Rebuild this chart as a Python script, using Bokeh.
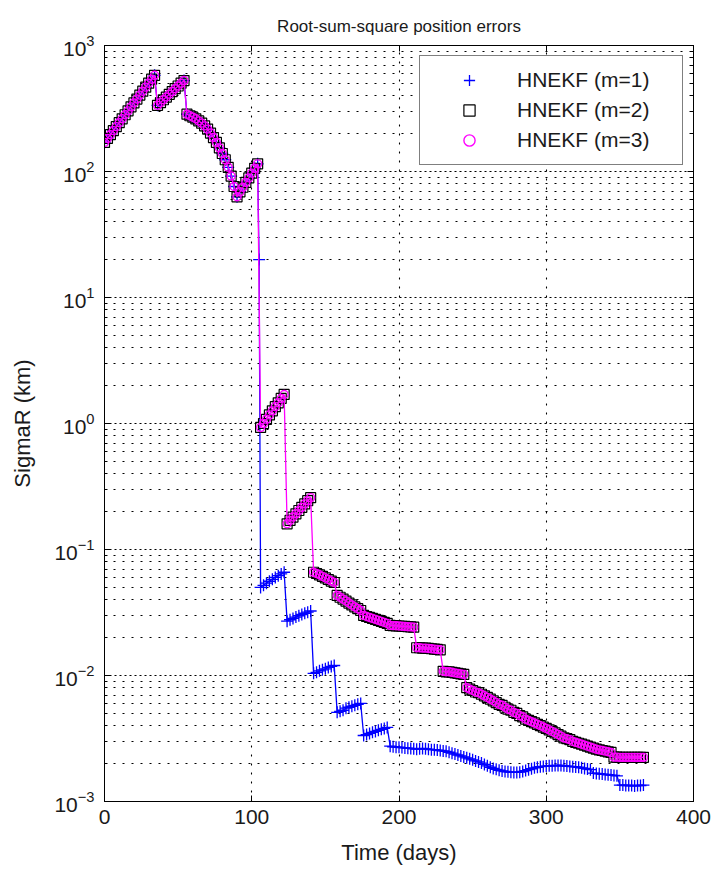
from bokeh.plotting import figure
from bokeh.models import (LogAxis, LinearAxis, FixedTicker, Legend, LegendItem,
                          CustomJSTickFormatter)
from bokeh.embed import file_html
from bokeh.resources import INLINE

# ---------------- data ----------------
# sampling grid: every 2 days from day 0 to day 366
days = list(range(0, 368, 2))

# days 0..104 : all three filters coincide (km)
r_common = [
    170, 183, 196, 211, 227, 244, 262, 282, 303, 326,
    350, 376, 404, 434, 467, 502, 540, 580,
    335, 352, 371, 390, 410, 431, 454, 477, 502, 527,
    285, 277, 270, 262, 252, 242, 230, 217, 202, 186,
    170, 154, 139, 124, 108, 92, 76,
    63, 69, 75, 82, 89, 97, 106, 115,
]

# m=1 has an extra sample during the big drop
day_m1_drop = [105]
r_m1_drop = [20.0]

# days 106..366 for HNEKF (m=1)
r_m1_late = [
    0.050, 0.052, 0.054, 0.056, 0.058, 0.060, 0.062, 0.064, 0.066,
    0.027, 0.0277, 0.0284, 0.0291, 0.0298, 0.0305, 0.0312, 0.0318, 0.0325,
    0.0104, 0.0106, 0.0109, 0.0111, 0.0113, 0.0116, 0.0118, 0.0120,
    0.0051, 0.0052, 0.0053, 0.0055, 0.0056, 0.0057, 0.0058, 0.0059, 0.0060,
    0.00334, 0.0034, 0.00347, 0.00354, 0.0036, 0.00367, 0.00374, 0.0038, 0.00387,
    0.00275, 0.00272, 0.0027, 0.0027, 0.00268, 0.00266, 0.00265, 0.00264, 0.00262, 0.0026,
    0.00262, 0.00264, 0.00262, 0.0026, 0.00258, 0.00258, 0.00256, 0.00254, 0.00252, 0.0025,
    0.00246, 0.00242, 0.00238, 0.00234, 0.0023, 0.00226, 0.00222, 0.00218, 0.00214, 0.0021,
    0.00206, 0.00202, 0.00197, 0.00192, 0.00187, 0.00183, 0.0018, 0.00177, 0.00175, 0.00173,
    0.00172, 0.00171, 0.0017, 0.0017, 0.00171, 0.00173, 0.00176, 0.00179, 0.00182, 0.00185,
    0.00187, 0.00189, 0.0019, 0.00191, 0.00192, 0.00192, 0.00193, 0.00193, 0.00193, 0.00192,
    0.00191, 0.0019, 0.00189, 0.00188, 0.00187, 0.00185, 0.00183, 0.00181, 0.00179,
    0.00168, 0.00167, 0.00166, 0.00165, 0.00164, 0.00163, 0.00162, 0.00161, 0.0016,
    0.00135, 0.00135, 0.00134, 0.00134, 0.00134, 0.00133, 0.00134, 0.00134, 0.00135,
]

# days 106..366 for HNEKF (m=2) and (m=3) (visually identical)
r_m23_late = [
    0.93, 1.0, 1.08, 1.17, 1.26, 1.36, 1.46, 1.58, 1.7,
    0.160, 0.170, 0.181, 0.192, 0.204, 0.216, 0.230, 0.244, 0.258,
    0.066, 0.0645, 0.063, 0.0612, 0.0595, 0.0578, 0.0562, 0.0547,
    0.0432, 0.0418, 0.0404, 0.039, 0.0376, 0.0363, 0.035, 0.0339, 0.0328,
    0.030, 0.0294, 0.0289, 0.0284, 0.0279, 0.0274, 0.0269, 0.0264, 0.0259,
    0.0250, 0.0249, 0.0248, 0.0247, 0.0246, 0.0245, 0.0244, 0.0243, 0.0242,
    0.0166, 0.0166, 0.0165, 0.0165, 0.0164, 0.0163, 0.0162, 0.0161, 0.0160,
    0.0108, 0.0107, 0.0107, 0.0106, 0.0105, 0.0104, 0.0103, 0.0102,
    0.0080, 0.0078, 0.0076, 0.0074, 0.0073, 0.0071, 0.0069, 0.0067, 0.0065, 0.0063,
    0.0061, 0.0059, 0.0058, 0.0056, 0.0054, 0.0053, 0.0051, 0.0050, 0.0048, 0.0047,
    0.0045, 0.0044, 0.0043, 0.0042, 0.0041, 0.0040, 0.0039, 0.0038, 0.0037, 0.0036,
    0.0035, 0.0034, 0.0033, 0.0032, 0.00315, 0.0031, 0.0030, 0.00295, 0.0029, 0.00285,
    0.0028, 0.00275, 0.0027, 0.00265, 0.0026, 0.00257, 0.00254, 0.00251, 0.00248, 0.00245,
    0.00225, 0.00225, 0.00224, 0.00224, 0.00224, 0.00224, 0.00224, 0.00224, 0.00224, 0.00224, 0.00224,
]

title_text = "Root-sum-square position errors"
series_labels = ["HNEKF (m=1)", "HNEKF (m=2)", "HNEKF (m=3)"]
x_ticks = [0, 100, 200, 300, 400]
y_decades = [1e-3, 1e-2, 1e-1, 1e0, 1e1, 1e2, 1e3]

# assemble series
t1 = days[:53] + day_m1_drop + days[53:]
r1 = r_common + r_m1_drop + r_m1_late
t2 = days
r2 = r_common + r_m23_late
t3 = days
r3 = r_common + r_m23_late

# ---------------- figure ----------------
FONT = "Liberation Sans"
TXT = "#1a1a1a"

p = figure(width=714, height=871, x_range=(0, 400), y_range=(1e-3, 1e3),
           y_axis_type="log", output_backend="svg", toolbar_location=None,
           min_border_left=104, min_border_right=21, min_border_top=45,
           min_border_bottom=70, background_fill_color="white",
           border_fill_color="white")
p.outline_line_color = "black"
p.outline_line_width = 1

p.title.text = title_text
p.title.align = "center"
p.title.text_font = FONT
p.title.text_font_size = "17px"
p.title.text_font_style = "normal"
p.title.text_color = TXT
p.title.standoff = 20

minor = [m * d for d in y_decades[:-1] for m in range(2, 10)]
yt = FixedTicker(ticks=y_decades, minor_ticks=minor)
xt = FixedTicker(ticks=x_ticks)

def style_axis(ax, label_size="21px"):
    ax.axis_line_color = "black"
    ax.major_tick_line_color = "black"
    ax.minor_tick_line_color = "black"
    ax.major_tick_in = 6
    ax.major_tick_out = 0
    ax.minor_tick_in = 3
    ax.minor_tick_out = 0
    ax.major_label_text_font = FONT
    ax.major_label_text_color = TXT
    ax.major_label_text_font_size = label_size
    ax.axis_label_text_font = FONT
    ax.axis_label_text_color = TXT
    ax.axis_label_text_font_style = "normal"
    ax.axis_label_text_font_size = "22px"

p.xaxis.ticker = xt
p.yaxis.ticker = yt
style_axis(p.xaxis[0])
style_axis(p.yaxis[0])
p.xaxis.axis_label = "Time (days)"
p.yaxis.axis_label = "SigmaR (km)"
p.xaxis.major_label_standoff = 8
p.xaxis.axis_label_standoff = 13
p.yaxis.major_label_standoff = 10
p.yaxis.axis_label_standoff = 16

blank = CustomJSTickFormatter(code="return ''")
right_ax = LogAxis(ticker=yt, formatter=blank)
style_axis(right_ax, "1px")
right_ax.major_label_standoff = 0
p.add_layout(right_ax, "right")
top_ax = LinearAxis(ticker=xt, formatter=blank)
style_axis(top_ax, "1px")
top_ax.major_label_standoff = 0
p.add_layout(top_ax, "above")

# grids (dotted, MATLAB style)
p.xgrid.grid_line_color = "black"
p.xgrid.grid_line_dash = "2 7"
p.xgrid.grid_line_width = 1.1
p.ygrid.grid_line_color = "black"
p.ygrid.grid_line_dash = "2 3"
p.ygrid.grid_line_width = 1.1
p.ygrid.minor_grid_line_color = "black"
p.ygrid.minor_grid_line_dash = "2 7"
p.ygrid.minor_grid_line_width = 1.1

# series
BLUE = "#0000ff"
MAG = "#ff00ff"
p.line(t1, r1, line_color=BLUE, line_width=1.3)
s1 = p.scatter(t1, r1, marker="cross", size=12, line_color=BLUE, line_width=1.3)
s2 = p.scatter(t2, r2, marker="square", size=10, line_color="black",
               fill_color=None, line_width=1.2)
p.line(t3, r3, line_color=MAG, line_width=1.3)
s3 = p.scatter(t3, r3, marker="circle", size=8, line_color=MAG,
               fill_color=None, line_width=1.4)

legend = Legend(items=[LegendItem(label=series_labels[0], renderers=[s1]),
                       LegendItem(label=series_labels[1], renderers=[s2]),
                       LegendItem(label=series_labels[2], renderers=[s3])],
                location="top_right")
legend.margin = 10
legend.padding = 10
legend.spacing = 2
legend.glyph_width = 78
legend.glyph_height = 28
legend.label_height = 28
legend.label_width = 155
legend.label_standoff = 9
legend.label_text_font = FONT
legend.label_text_font_size = "21px"
legend.label_text_color = TXT
legend.border_line_color = "black"
legend.border_line_width = 1
legend.background_fill_color = "white"
legend.background_fill_alpha = 1.0
p.add_layout(legend)

open("out.html", "w").write(file_html(p, INLINE))
